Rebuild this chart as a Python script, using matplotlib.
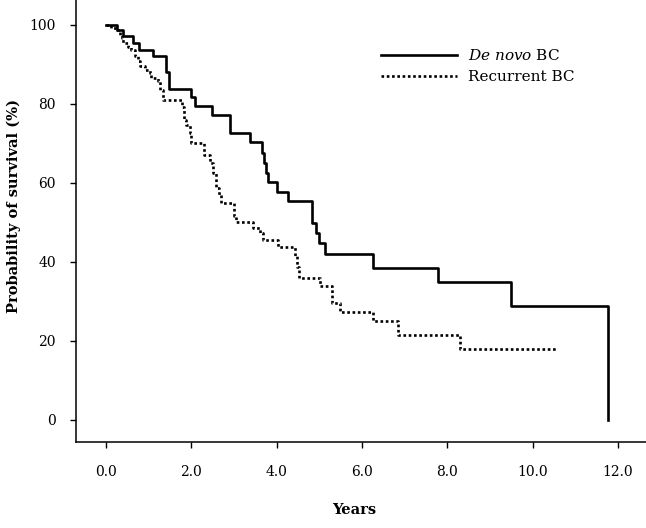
import matplotlib
matplotlib.use('Agg')
import matplotlib.pyplot as plt

# --- Style ---
plt.rcParams['font.family'] = ['DejaVu Serif']
plt.rcParams['mathtext.fontset'] = 'dejavuserif'

# Kaplan-Meier step data (years, % survival)
denovo_years = [0.0, 0.27, 0.41, 0.64, 0.78, 1.11, 1.42, 1.48, 2.0, 2.09, 2.48,
                2.9, 3.38, 3.65, 3.7, 3.75, 3.8, 4.0, 4.27, 4.84, 4.92, 5.0,
                5.13, 6.26, 7.79, 9.49, 11.78]
denovo_surv = [100.0, 98.6, 97.2, 95.4, 93.7, 92.0, 88.0, 83.7, 81.7, 79.4, 77.1,
               72.6, 70.3, 67.6, 65.0, 62.6, 60.3, 57.8, 55.3, 49.8, 47.3, 44.7,
               41.9, 38.5, 34.8, 28.9, 0.0]

recurrent_years = [0.0, 0.12, 0.25, 0.33, 0.37, 0.41, 0.52, 0.6, 0.68, 0.75, 0.8,
                   0.91, 1.03, 1.07, 1.23, 1.27, 1.34, 1.79, 1.83, 1.89, 1.97, 2.0,
                   2.3, 2.44, 2.51, 2.59, 2.65, 2.71, 3.0, 3.06, 3.45, 3.61, 3.69,
                   4.04, 4.43, 4.47, 4.53, 5.02, 5.31, 5.48, 6.26, 6.85, 8.3, 10.56]
recurrent_surv = [100.0, 99.3, 98.6, 97.5, 96.6, 95.4, 94.5, 93.7, 92.0, 90.8, 89.5,
                  88.6, 87.8, 86.5, 85.7, 83.5, 81.0, 79.3, 75.9, 74.7, 72.6, 70.2,
                  67.1, 65.0, 62.4, 58.6, 57.0, 54.8, 51.5, 50.2, 48.5, 47.3, 45.6,
                  43.8, 41.5, 38.8, 35.9, 33.8, 29.5, 27.4, 25.1, 21.5, 17.9, 17.9]

x_ticks = [0, 2, 4, 6, 8, 10, 12]
x_ticklabels = ['0.0', '2.0', '4.0', '6.0', '8.0', '10.0', '12.0']
y_ticks = [0, 20, 40, 60, 80, 100]

# --- Figure ---
fig = plt.figure(figsize=(6.46, 5.28), dpi=100)
ax = fig.add_axes([0.1176, 0.1629, 0.8824, 0.8371])

ax.step(denovo_years, denovo_surv, where='post', color='black', linewidth=1.9,
        label=r'$\it{De\ novo}$ BC')
ax.step(recurrent_years, recurrent_surv, where='post', color='black', linewidth=1.9,
        linestyle=(0, (1, 1)), label='Recurrent BC')

ax.set_xlim(-0.70, 12.66)
ax.set_ylim(-5.6, 106.3)

ax.set_xticks(x_ticks)
ax.set_xticklabels(x_ticklabels)
ax.set_yticks(y_ticks)

for side in ['top', 'right']:
    ax.spines[side].set_visible(False)
for side in ['left', 'bottom']:
    ax.spines[side].set_linewidth(1.1)

ax.tick_params(axis='both', direction='out', length=4.5, width=1.0, labelsize=10)
ax.tick_params(axis='x', pad=12)
ax.tick_params(axis='y', pad=10)

# Axis titles
fig.text(354 / 646, 1 - 510 / 528, 'Years', ha='center', va='center',
         fontsize=10.5, fontweight='bold')
fig.text(14 / 646, 1 - 206 / 528, 'Probability of survival (%)', ha='center',
         va='center', rotation=90, fontsize=10.5, fontweight='bold')

ax.legend(loc='upper left', bbox_to_anchor=(381 / 646, 1 - 48 / 528),
          bbox_transform=fig.transFigure, frameon=False, fontsize=11,
          handlelength=5.0, handletextpad=0.7, labelspacing=0.45,
          borderpad=0, borderaxespad=0)

plt.savefig('out.png', dpi=100)
